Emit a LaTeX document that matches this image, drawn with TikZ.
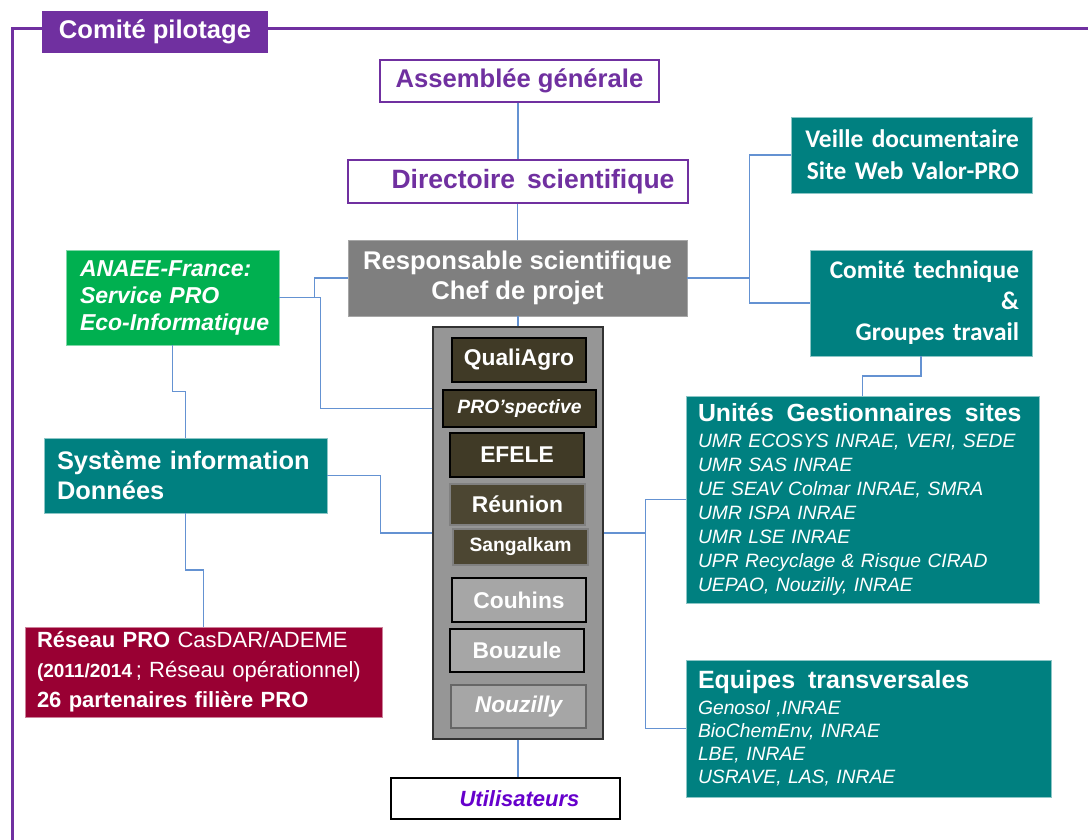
\documentclass[tikz,border=0pt]{standalone}
\usepackage{fontspec}
\setmainfont{Liberation Sans}
\newfontfamily\calfont{Carlito}
\usetikzlibrary{calc}
\definecolor{purp}{RGB}{112,48,160}
\definecolor{violetT}{RGB}{102,0,204}
\definecolor{tealB}{RGB}{0,128,128}
\definecolor{greenB}{RGB}{0,176,80}
\definecolor{crimsonB}{RGB}{153,0,51}
\definecolor{grayB}{RGB}{127,127,127}
\definecolor{colgray}{RGB}{150,150,150}
\definecolor{oliveA}{RGB}{64,58,38}
\definecolor{oliveB}{RGB}{76,70,50}
\definecolor{lgray}{RGB}{166,166,166}
\definecolor{connC}{RGB}{100,146,210}
\begin{document}
\begin{tikzpicture}[x=1pt,y=-1pt,
  link/.style={draw=connC, line width=1.4pt},
  pbox/.style={draw=purp, line width=1.6pt, fill=white, text=purp, inner sep=0pt, font=\fontsize{25.6}{30}\selectfont\bfseries},
  tbox/.style={fill=tealB, draw=tealB!45!white, line width=0.8pt, text=white, inner ysep=0pt},
  cbox/.style={draw=black, line width=1.3pt, fill=oliveA, text=white, inner sep=0pt, font=\fontsize{22.8}{26}\selectfont\bfseries},
 ]
\useasboundingbox (0,0) rectangle (1088,840);

% frame
\draw[purp, line width=3pt] (12,845) -- (12,29) -- (1095,29);
\node[fill=purp, text=white, minimum width=226, minimum height=42, inner sep=0pt, font=\fontsize{25.6}{30}\selectfont\bfseries] (header) at (155,32) {Comité pilotage};

% centre
\node[pbox, minimum width=279, minimum height=42] (assemblee) at (519.5,81) {Assemblée générale};
\node[pbox, minimum width=340, minimum height=43, font=\fontsize{26.5}{30}\selectfont\bfseries] (directoire) at (518,181.5) {\hspace*{30pt}Directoire\hspace{12pt}scientifique};
\node[fill=grayB, draw=gray!70, line width=0.8pt, text=white, minimum width=339, minimum height=76, inner sep=0pt, align=center, font=\fontsize{25.6}{30}\selectfont\bfseries] (responsable) at (517.5,278) {Responsable scientifique\\Chef de projet};

\node[fill=colgray, draw=black!80, line width=1.5pt, minimum width=170, minimum height=412, inner sep=0pt] (column) at (518,533) {};
\node[cbox, minimum width=134, minimum height=44] (quali) at (519,360) {QualiAgro};
\node[cbox, minimum width=153, minimum height=37, font=\fontsize{19.3}{22}\selectfont\bfseries\itshape] (prosp) at (519.5,408.5) {PRO’spective};
\node[cbox, minimum width=134, minimum height=44] (efele) at (517,455) {EFELE};
\node[cbox, draw=gray, fill=oliveB, minimum width=135, minimum height=41] (reunion) at (517.5,504.5) {Réunion};
\node[cbox, draw=gray, fill=oliveB, minimum width=135, minimum height=36, font=\fontsize{19.3}{22}\selectfont\bfseries] (sangal) at (520.5,547) {Sangalkam};
\node[cbox, fill=lgray, minimum width=134, minimum height=44] (couhins) at (519,600) {Couhins};
\node[cbox, fill=lgray, minimum width=134, minimum height=43] (bouzule) at (517,650.5) {Bouzule};
\node[cbox, fill=lgray, draw=gray!80!black, minimum width=135, minimum height=43, font=\fontsize{22.8}{26}\selectfont\bfseries\itshape] (nouzilly) at (518.5,706.5) {Nouzilly};

\node[draw=black, line width=1.3pt, fill=white, text=violetT, minimum width=229, minimum height=41, inner sep=0pt, font=\fontsize{22}{26}\selectfont\bfseries\itshape] (util) at (505.5,798.5) {\hspace*{28pt}Utilisateurs};

% left
\node[fill=greenB, draw=greenB!50!white, line width=0.8pt, text=white, text width=185, inner xsep=14, inner ysep=0pt, minimum height=95, align=left, font=\fontsize{23}{27}\selectfont\bfseries\itshape] (anaee) at (172.5,297.5) {ANAEE-France:\\Service PRO\\\mbox{Eco-Informatique}};
\node[tbox, text width=257, inner xsep=13, minimum height=75, align=left, font=\fontsize{25.4}{30}\selectfont\bfseries] (systeme) at (185.5,475.5) {Système information\\Données};
\node[fill=crimsonB, draw=crimsonB!50!white, line width=0.8pt, text=white, text width=333, inner xsep=12, inner ysep=0pt, minimum height=90, align=left, font=\fontsize{22}{30}\selectfont] (reseau) at (203.5,672) {\textbf{Réseau PRO} CasDAR/ADEME\\{\fontsize{19}{30}\selectfont\bfseries (2011/2014}\,; Réseau opérationnel)\\\textbf{26 partenaires filière PRO}};

% right
\node[tbox, text width=215, inner xsep=13, minimum height=76, align=right, font={\calfont\fontsize{25.4}{32}\selectfont\bfseries}] (veille) at (911.5,155) {Veille documentaire\\Site Web Valor-PRO};
\node[tbox, text width=196, inner xsep=13, minimum height=106, align=right, font={\calfont\fontsize{25.4}{31}\selectfont\bfseries}] (comite) at (921,303) {Comité technique\hspace*{6pt}\\\&\hspace*{6pt}\\Groupes travail};
\node[tbox, text width=329, inner xsep=12, minimum height=207, align=left, font=\fontsize{19.3}{24}\selectfont\itshape] (unites) at (862.5,499.5) {{\fontsize{24.8}{24}\selectfont\bfseries\upshape Unités\ \ Gestionnaires\ \ sites}\\[2pt]UMR ECOSYS INRAE, VERI, SEDE\\UMR SAS INRAE\\UE SEAV Colmar INRAE, SMRA\\UMR ISPA INRAE\\UMR LSE INRAE\\UPR Recyclage \& Risque CIRAD\\UEPAO, Nouzilly, INRAE};
\node[tbox, text width=341, inner xsep=12, minimum height=137, align=left, font=\fontsize{19.3}{23}\selectfont\itshape] (equipes) at (868.5,728.5) {{\fontsize{25}{24}\selectfont\bfseries\upshape Equipes\ \ transversales}\\[3pt]Genosol ,INRAE\\BioChemEnv, INRAE\\LBE, INRAE\\USRAVE, LAS, INRAE};

% connectors
\draw[link] (directoire.north) -- (directoire.north |- assemblee.south);
\draw[link] (responsable.north) -- (responsable.north |- directoire.south);
\draw[link] (column.north) -- (column.north |- responsable.south);
\draw[link] (column.south) -- (util.north -| column.south);

\draw[link] (anaee.east) -- ++(35,0) |- (responsable.west);
\draw[link] (anaee.east) -- ++(41,0) |- (prosp.west -| column.west);
\draw[link] (anaee.south) |- ($(anaee.south)!.5!(systeme.north)$) -| (systeme.north);
\draw[link] (systeme.east) -- ++(53,0) |- (column.west);
\draw[link] (systeme.south) |- ($(systeme.south)!.5!(reseau.north)$) -| (reseau.north);

\draw[link] (responsable.east) -- ++(62,0) coordinate (rj) |- (veille.west);
\draw[link] (rj) |- (comite.west);
\draw[link] (comite.south) |- ($(comite.south)!.5!(unites.north)$) -| (unites.north);
\draw[link] (column.east) -- ++(42,0) coordinate (cj) |- (unites.west);
\draw[link] (cj) |- (equipes.west);
\end{tikzpicture}
\end{document}
